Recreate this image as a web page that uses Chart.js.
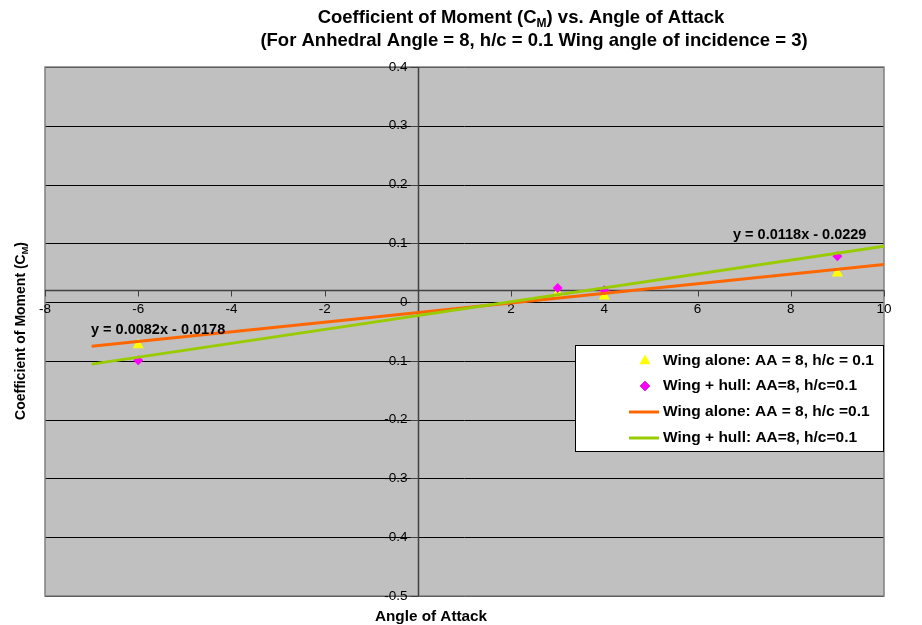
<!DOCTYPE html>
<html>
<head>
<meta charset="utf-8">
<script src="https://cdn.jsdelivr.net/npm/chart.js@4/dist/chart.umd.min.js"></script>
<style>
  html, body { margin: 0; padding: 0; background: #ffffff; }
  #wrap { width: 922px; height: 625px; }
</style>
</head>
<body>
<div id="wrap"><canvas id="cm" width="922" height="625"></canvas></div>
<script>
// Measured angles of attack (degrees)
const angles = [-6, 3, 4, 9];
// Coefficient of moment readings
const wingAlone = [-0.073, 0.015, 0.010, 0.049];
const wingHull = [-0.099, 0.024, 0.020, 0.078];

// Linear trendlines: y = slope * x + intercept, drawn over this x span
const trendSlopes = [0.0082, 0.0118];
const trendIntercepts = [-0.0178, -0.0229];
const trendSpan = [-7, 10];

// Axis settings
const xTicks = [-8, -6, -4, -2, 0, 2, 4, 6, 8, 10];
const yTicks = [0.4, 0.3, 0.2, 0.1, 0, -0.1, -0.2, -0.3, -0.4, -0.5];
const xAxisCrossesAt = 0.02;

const seriesNames = [
  'Wing alone: AA = 8, h/c = 0.1',
  'Wing + hull: AA=8, h/c=0.1',
  'Wing alone: AA = 8, h/c =0.1',
  'Wing + hull: AA=8, h/c=0.1'
];

const FONT = "'Liberation Sans', Arial, Helvetica, sans-serif";

function pts(xs, ys) { return xs.map((x, i) => ({ x: x, y: ys[i] })); }
function trend(k) {
  return trendSpan.map(x => ({ x: x, y: trendSlopes[k] * x + trendIntercepts[k] }));
}
function eqText(k) {
  const b = trendIntercepts[k];
  return 'y = ' + trendSlopes[k].toFixed(4) + 'x ' + (b < 0 ? '- ' : '+ ') + Math.abs(b).toFixed(4);
}

// Draw text made of [string, isSubscript] runs centred on cx
function runsWidth(ctx, runs, size) {
  let w = 0;
  runs.forEach(r => {
    ctx.font = 'bold ' + (r[1] ? size * 0.65 : size) + 'px ' + FONT;
    w += ctx.measureText(r[0]).width;
  });
  return w;
}
function drawRuns(ctx, runs, size, cx, baseline) {
  const w = runsWidth(ctx, runs, size);
  let x = cx - w / 2;
  ctx.textAlign = 'left';
  ctx.textBaseline = 'alphabetic';
  runs.forEach(r => {
    const s = r[1] ? size * 0.65 : size;
    ctx.font = 'bold ' + s + 'px ' + FONT;
    ctx.fillText(r[0], x, baseline + (r[1] ? size * 0.2 : 0));
    x += ctx.measureText(r[0]).width;
  });
}

const frame = {
  id: 'frame',
  beforeDatasetsDraw(chart) {
    const { ctx, chartArea: a, scales: { x, y } } = chart;
    ctx.save();
    // plot background
    ctx.fillStyle = '#c0c0c0';
    ctx.fillRect(a.left, a.top, a.right - a.left, a.bottom - a.top);
    // horizontal gridlines
    ctx.strokeStyle = '#000000';
    ctx.lineWidth = 1;
    yTicks.forEach(v => {
      const py = Math.round(y.getPixelForValue(v)) + 0.5;
      ctx.beginPath(); ctx.moveTo(a.left, py); ctx.lineTo(a.right, py); ctx.stroke();
    });
    // plot border
    ctx.strokeStyle = '#808080';
    ctx.lineWidth = 1.5;
    ctx.strokeRect(a.left, a.top, a.right - a.left, a.bottom - a.top);

    // axes
    const ax = Math.round(x.getPixelForValue(0)) + 0.5;
    const ay = Math.round(y.getPixelForValue(xAxisCrossesAt)) + 0.5;
    ctx.strokeStyle = '#404040';
    ctx.lineWidth = 1.5;
    ctx.beginPath(); ctx.moveTo(ax, a.top); ctx.lineTo(ax, a.bottom); ctx.stroke();
    ctx.beginPath(); ctx.moveTo(a.left, ay); ctx.lineTo(a.right, ay); ctx.stroke();

    // tick marks
    ctx.lineWidth = 1;
    yTicks.forEach(v => {
      const py = Math.round(y.getPixelForValue(v)) + 0.5;
      ctx.beginPath(); ctx.moveTo(ax - 8, py); ctx.lineTo(ax, py); ctx.stroke();
    });
    xTicks.forEach(v => {
      const px = Math.round(x.getPixelForValue(v)) + 0.5;
      ctx.beginPath(); ctx.moveTo(px, ay); ctx.lineTo(px, ay + 6); ctx.stroke();
    });

    // tick labels
    ctx.fillStyle = '#000000';
    ctx.font = '13.5px ' + FONT;
    ctx.textAlign = 'right';
    ctx.textBaseline = 'middle';
    yTicks.forEach(v => {
      ctx.fillText(String(Math.round(v * 10) / 10), ax - 11, y.getPixelForValue(v));
    });
    ctx.textAlign = 'center';
    xTicks.forEach(v => {
      if (v === 0) return;
      ctx.fillText(String(v), x.getPixelForValue(v), ay + 19);
    });
    ctx.restore();
  },
  afterDraw(chart) {
    const { ctx } = chart;
    ctx.save();
    ctx.fillStyle = '#000000';

    // title
    drawRuns(ctx, [['Coefficient of Moment (C', false], ['M', true], [') vs. Angle of Attack', false]], 18.5, 521, 23);
    drawRuns(ctx, [['(For Anhedral Angle = 8, h/c = 0.1 Wing angle of incidence = 3)', false]], 18.5, 534, 46);

    // axis titles
    drawRuns(ctx, [['Angle of Attack', false]], 15.3, 431, 621);
    ctx.save();
    ctx.translate(25, 331);
    ctx.rotate(-Math.PI / 2);
    drawRuns(ctx, [['Coefficient of Moment (C', false], ['M', true], [')', false]], 14, 0, 0);
    ctx.restore();

    // trendline equations
    ctx.font = 'bold 14.5px ' + FONT;
    ctx.textAlign = 'left';
    ctx.textBaseline = 'middle';
    ctx.fillText(eqText(0), 91, 330);
    ctx.fillText(eqText(1), 733, 235);

    // legend
    const lx = 575.5, ly = 345.5, lw = 308, lh = 106;
    ctx.fillStyle = '#ffffff';
    ctx.fillRect(lx, ly, lw, lh);
    ctx.strokeStyle = '#000000';
    ctx.lineWidth = 1;
    ctx.strokeRect(lx, ly, lw, lh);
    const rows = [361, 386, 412, 438];
    const ds = chart.data.datasets;
    rows.forEach((ry, i) => {
      const d = ds[i];
      if (d.showLine) {
        ctx.strokeStyle = d.borderColor;
        ctx.lineWidth = 3;
        ctx.beginPath(); ctx.moveTo(629, ry); ctx.lineTo(659, ry); ctx.stroke();
      } else {
        Chart.helpers.drawPoint(ctx, {
          pointStyle: d.pointStyle, radius: d.pointRadius, borderWidth: 0, rotation: 0
        }, 645, ry);
        ctx.fillStyle = d.backgroundColor;
        ctx.fill();
      }
      ctx.fillStyle = '#000000';
      ctx.font = 'bold 15.5px ' + FONT;
      ctx.textAlign = 'left';
      ctx.textBaseline = 'middle';
      ctx.fillText(seriesNames[i], 663, ry);
    });
    ctx.restore();
  }
};

new Chart(document.getElementById('cm'), {
  type: 'scatter',
  data: {
    datasets: [
      {
        label: seriesNames[0], data: pts(angles, wingAlone),
        pointStyle: 'triangle', pointRadius: 6.5, pointHoverRadius: 6.5,
        backgroundColor: '#ffff00', borderColor: '#ffff00', borderWidth: 0,
        showLine: false, order: 4
      },
      {
        label: seriesNames[1], data: pts(angles, wingHull),
        pointStyle: 'rectRot', pointRadius: 5, pointHoverRadius: 5,
        backgroundColor: '#ff00ff', borderColor: '#ff00ff', borderWidth: 0,
        showLine: false, order: 3
      },
      {
        label: seriesNames[2], data: trend(0),
        showLine: true, borderColor: '#ff6600', backgroundColor: '#ff6600',
        borderWidth: 3, pointRadius: 0, pointHoverRadius: 0, order: 2
      },
      {
        label: seriesNames[3], data: trend(1),
        showLine: true, borderColor: '#99cc00', backgroundColor: '#99cc00',
        borderWidth: 3, pointRadius: 0, pointHoverRadius: 0, order: 1
      }
    ]
  },
  options: {
    responsive: false,
    animation: false,
    events: [],
    layout: { padding: { left: 45, top: 67, right: 38, bottom: 29 } },
    plugins: { legend: { display: false }, title: { display: false }, tooltip: { enabled: false } },
    scales: {
      x: { type: 'linear', min: -8, max: 10, display: false },
      y: { type: 'linear', min: -0.5, max: 0.4, display: false }
    }
  },
  plugins: [frame]
});
</script>
</body>
</html>
